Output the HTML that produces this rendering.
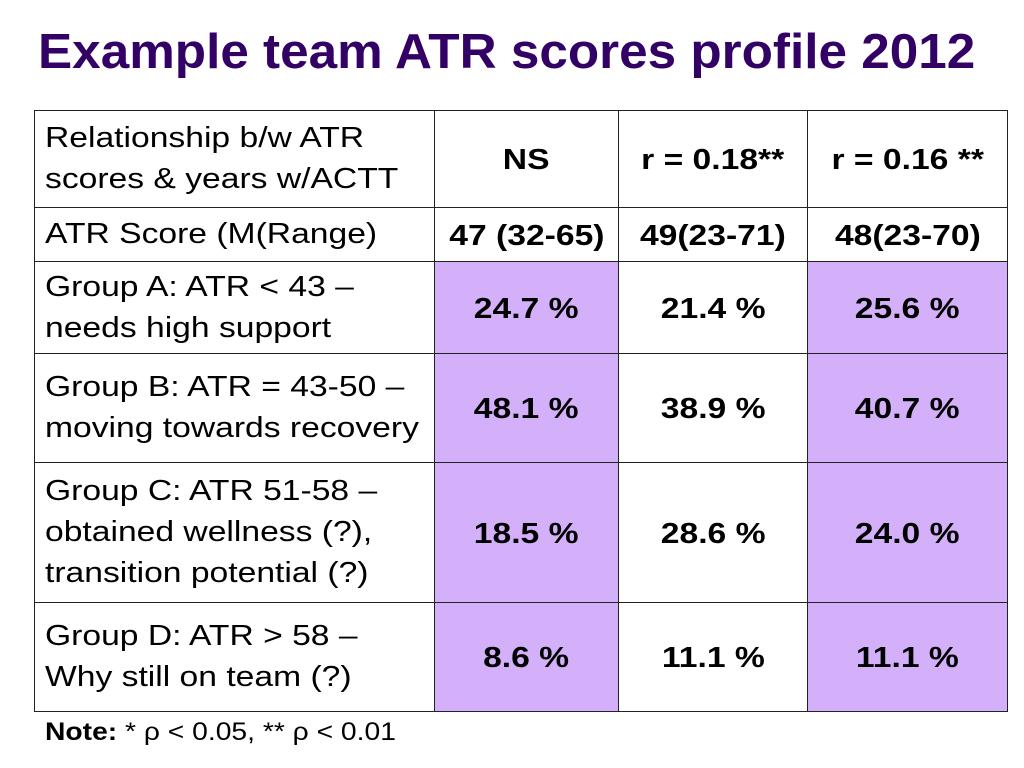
<!DOCTYPE html>
<html><head><meta charset="utf-8"><style>
body{margin:0;width:1024px;height:768px;background:#fff;position:relative;overflow:hidden;font-family:"Liberation Sans",Arial,sans-serif;}
#title{position:absolute;left:38px;top:24px;font-size:49px;font-weight:bold;color:#330066;white-space:nowrap;transform:scaleX(1.046);transform-origin:left top;}
.c{position:absolute;box-sizing:border-box;border:1.5px solid #222;display:flex;align-items:center;font-size:29px;line-height:41px;color:#000;}
.h{padding-left:10px;}
.h span{display:inline-block;transform:scaleX(1.16);transform-origin:left center;white-space:nowrap;}
.v{justify-content:center;font-weight:bold;padding-top:3px;}
.v span{display:inline-block;transform:scaleX(1.16);white-space:nowrap;}
.p{background:#d5b0fa;}
#note{position:absolute;left:45px;top:718px;font-size:25px;transform:scaleX(1.13);transform-origin:left top;white-space:nowrap;}
</style></head><body>
<div id="title">Example team ATR scores profile 2012</div>
<div id="tbl"></div>
<div id="note"><b>Note:</b> * ρ &lt; 0.05, ** ρ &lt; 0.01</div>
<script>
const rowLabels=["Relationship b/w ATR<br>scores &amp; years w/ACTT","ATR Score (M(Range)","Group A: ATR &lt; 43 –<br>needs high support","Group B: ATR = 43-50 –<br>moving towards recovery","Group C: ATR 51-58 –<br>obtained wellness (?),<br>transition potential (?)","Group D: ATR &gt; 58 –<br>Why still on team (?)"];
const col1=["NS","47 (32-65)","24.7 %","48.1 %","18.5 %","8.6 %"];
const col2=["r = 0.18**","49(23-71)","21.4 %","38.9 %","28.6 %","11.1 %"];
const col3=["r = 0.16 **","48(23-70)","25.6 %","40.7 %","24.0 %","11.1 %"];
const ys=[110,207,261,353,462,602,711];
const xs=[34,434,618,807,1007];
const t=document.getElementById('tbl');
const cols=[col1,col2,col3];
for(let r=0;r<6;r++){
  const h=document.createElement('div');
  h.className='c h';
  
  
  h.style.cssText=`left:${xs[0]}px;top:${ys[r]}px;width:${xs[1]-xs[0]+1}px;height:${ys[r+1]-ys[r]+1}px;`;
  h.innerHTML='<span>'+rowLabels[r]+'</span>';
  t.appendChild(h);
  for(let c=0;c<3;c++){
    const d=document.createElement('div');
    d.className='c v'+(r>=2&&c!==1?' p':'');
    
    
    d.style.cssText=`left:${xs[c+1]}px;top:${ys[r]}px;width:${xs[c+2]-xs[c+1]+1}px;height:${ys[r+1]-ys[r]+1}px;`;
    const s=document.createElement('span');
    s.textContent=cols[c][r];
    d.appendChild(s);
    t.appendChild(d);
  }
}
</script>
</body></html>
